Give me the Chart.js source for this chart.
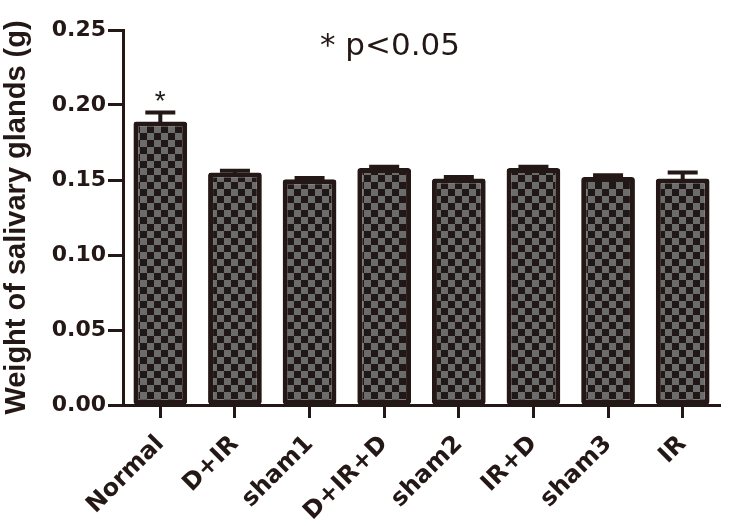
<!DOCTYPE html>
<html>
<head>
<meta charset="utf-8">
<script src="https://cdn.jsdelivr.net/npm/chart.js@4.4.1/dist/chart.umd.min.js"></script>
<style>
  body { margin: 0; background: #fff; }
  #wrap { width: 729px; height: 526px; }
</style>
</head>
<body>
<div id="wrap"><canvas id="chart"></canvas></div>
<script>
// data
const groups = ["Normal", "D+IR", "sham1", "D+IR+D", "sham2", "IR+D", "sham3", "IR"];
const weights = [0.189, 0.155, 0.1505, 0.158, 0.151, 0.158, 0.152, 0.151];
const errors = [0.006, 0.0012, 0.0008, 0.0008, 0.001, 0.0008, 0.0012, 0.004];
const yTicks = [0, 0.05, 0.10, 0.15, 0.20, 0.25];

const ink = "#231815";

// checker fill
function checker() {
    const c = document.createElement("canvas");
    c.width = 14; c.height = 14;
    const g = c.getContext("2d");
    g.fillStyle = "#1f1816";
    g.fillRect(0, 0, 14, 14);
    g.fillStyle = "#6c6c6c";
    g.fillRect(0, 0, 7, 7);
    g.fillRect(7, 7, 7, 7);
    return g.createPattern(c, "repeat");
}

// error bars + annotations
const extras = {
    id: "extras",
    afterDatasetsDraw(chart) {
        const ctx = chart.ctx;
        const y = chart.scales.y;
        const meta = chart.getDatasetMeta(0);
        ctx.save();
        ctx.strokeStyle = ink;
        ctx.lineWidth = 4;
        meta.data.forEach((bar, i) => {
            const top = y.getPixelForValue(weights[i] + errors[i]);
            ctx.beginPath();
            ctx.moveTo(bar.x, bar.y + 2);
            ctx.lineTo(bar.x, top);
            ctx.moveTo(bar.x - 15, top);
            ctx.lineTo(bar.x + 15, top);
            ctx.stroke();
        });
        ctx.fillStyle = ink;
        ctx.textAlign = "center";
        ctx.textBaseline = "middle";
        ctx.font = "28px 'Liberation Sans'";
        const n = meta.data[0];
        ctx.fillText("*", n.x, y.getPixelForValue(weights[0] + errors[0]) - 10);
        ctx.font = "31px 'DejaVu Sans'";
        ctx.fillText("* p<0.05", 390, 47);
        ctx.restore();
    }
};

new Chart(document.getElementById("chart"), {
    type: "bar",
    data: {
        labels: groups,
        datasets: [{
            data: weights,
            backgroundColor: checker(),
            borderColor: ink,
            borderWidth: 5,
            borderRadius: 3,
            borderSkipped: false,
            barPercentage: 0.72,
            categoryPercentage: 1
        }]
    },
    options: {
        responsive: true,
        maintainAspectRatio: false,
        animation: false,
        layout: { padding: { top: 30, right: 9, left: 0, bottom: 0 } },
        plugins: { legend: { display: false }, tooltip: { enabled: false } },
        scales: {
            x: {
                afterFit: s => { s.height = 121; },
                grid: { display: true, offset: false, drawOnChartArea: false, tickLength: 13, tickWidth: 3, tickColor: ink },
                border: { display: true, width: 3, color: ink },
                ticks: {
                    color: ink,
                    minRotation: 45,
                    maxRotation: 45,
                    padding: 12,
                    font: { family: "'DejaVu Sans'", size: 24, weight: "bold" }
                }
            },
            y: {
                min: 0,
                max: 0.25,
                afterFit: s => { s.width = 123; },
                afterBuildTicks: s => { s.ticks = yTicks.map(v => ({ value: v })); },
                grid: { display: true, drawOnChartArea: false, tickLength: 15, tickWidth: 3, tickColor: ink },
                border: { display: true, width: 3, color: ink },
                ticks: {
                    color: ink,
                    padding: 2,
                    callback: v => v.toFixed(2),
                    font: { family: "'DejaVu Sans'", size: 22, weight: "bold" }
                },
                title: {
                    display: true,
                    text: "Weight of salivary glands (g)",
                    color: ink,
                    padding: { top: 0, bottom: 0 },
                    font: { family: "'Liberation Sans'", size: 29, weight: "bold" }
                }
            }
        }
    },
    plugins: [extras]
});
</script>
</body>
</html>
